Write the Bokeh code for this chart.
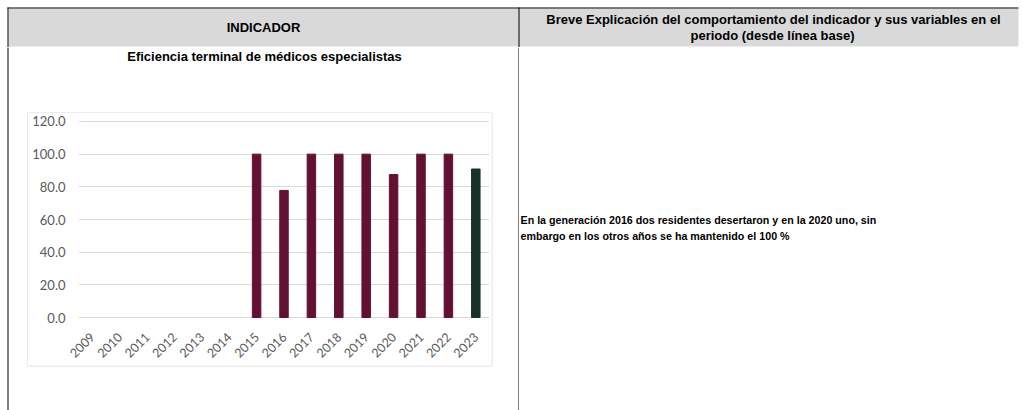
from bokeh.plotting import figure
from bokeh.layouts import column, row
from bokeh.models import (FactorRange, Range1d, FixedTicker, PrintfTickFormatter,
                          ColumnDataSource)
from bokeh.core.properties import value
from bokeh.embed import file_html
from bokeh.resources import INLINE
import math

# ---- data ----
years = ["2009", "2010", "2011", "2012", "2013", "2014", "2015", "2016",
         "2017", "2018", "2019", "2020", "2021", "2022", "2023"]
efficiency = [None, None, None, None, None, None, 100.0, 77.8, 100.0, 100.0,
              100.0, 87.5, 100.0, 100.0, 90.9]
y_ticks = [0, 20, 40, 60, 80, 100, 120]

header_left = "INDICADOR"
header_right = ["Breve Explicación del comportamiento del indicador y sus variables en el",
                "periodo (desde línea base)"]
chart_title = "Eficiencia terminal de médicos especialistas"
explanation = ["En la generación 2016 dos residentes desertaron y en la 2020 uno, sin",
               "embargo en los otros años se ha mantenido el 100 %"]

MAROON = "#621132"
GREEN = "#163229"
GRID = "#D9D9D9"
HEAD = "#D9D9D9"
FONT = value("Liberation Sans")


def no_align(f):
    try:
        f.frame_align = False
    except Exception:
        pass


def deco(x0, x1, y0, y1):
    """A plain figure whose data units are page pixels (y grows downward)."""
    f = figure(width=x1 - x0, height=y1 - y0, x_range=Range1d(x0, x1),
               y_range=Range1d(y1, y0), output_backend="svg", toolbar_location=None,
               title=None, min_border=0, x_axis_location=None, y_axis_location=None)
    f.outline_line_color = None
    f.background_fill_color = "white"
    f.border_fill_color = "white"
    f.grid.visible = False
    no_align(f)
    return f


def rect(f, l, r, t, b, color):
    f.quad(left=[l], right=[r], top=[t], bottom=[b], fill_color=color, line_color=None)


def txt(f, xs, ys, texts, size, align="center"):
    f.text(x=xs, y=ys, text=texts, text_font=FONT, text_font_size=value(size),
           text_font_style="bold", text_align=align, text_baseline="middle",
           text_color="black")


W, H = 1023, 410
LB, DIV, TOP, HB = 7, 518, 7, 47           # table lines / header bottom
CL, CR, CT, CB = 27, 491, 112, 365         # chart border
FL, FR, FT, FB = 78, 489, 120, 318         # plot frame

# header row
hdr = deco(0, W, 0, HB)
rect(hdr, LB + 1, 1018, TOP + 1, 46, HEAD)
rect(hdr, LB, 1018, TOP, TOP + 1, "black")
rect(hdr, LB, LB + 1, TOP, HB, "black")
rect(hdr, DIV, DIV + 1, TOP, HB, "black")
txt(hdr, [263], [27], [header_left], "13px")
txt(hdr, [773, 772], [19, 35], header_right, "13px")

# left strip (table border + chart border left edge), full body height
lfig = deco(0, CL + 1, HB, H)
rect(lfig, LB, LB + 1, HB, H, "black")
rect(lfig, CL, CL + 1, CT, CB + 1, GRID)

# right strip of left cell (chart border right edge + column divider)
rfig = deco(CR, DIV + 1, HB, H)
rect(rfig, CR, CR + 1, CT, CB + 1, GRID)
rect(rfig, DIV, DIV + 1, HB, H, "black")

# above the chart: title and chart border top
tfig = deco(CL + 1, CR, HB, CT + 1)
rect(tfig, CL + 1, CR, CT, CT + 1, GRID)
txt(tfig, [264], [56], [chart_title], "13px")

# below the chart: chart border bottom
bfig = deco(CL + 1, CR, CB, H)
rect(bfig, CL + 1, CR, CB, CB + 1, GRID)

# right cell: explanation
efig = deco(DIV + 1, W, HB, H)
txt(efig, [520, 520], [219, 235], explanation, "10.7px", align="left")

# ---- bar chart ----
bx = [y for y, v in zip(years, efficiency) if v is not None]
by = [v for v in efficiency if v is not None]
bc = [GREEN if y == years[-1] else MAROON for y in bx]
src = ColumnDataSource(dict(x=bx, top=by, color=bc))

cw, ch = CR - (CL + 1), CB - (CT + 1)
p = figure(width=cw, height=ch, x_range=FactorRange(*years, range_padding=0),
           y_range=Range1d(-0.6, 120.6), output_backend="svg", toolbar_location=None,
           title=None, min_border_left=FL - (CL + 1), min_border_right=CR - FR,
           min_border_top=FT - (CT + 1), min_border_bottom=CB - FB)
p.outline_line_color = None
p.background_fill_color = "white"
p.border_fill_color = "white"
no_align(p)

p.vbar(x="x", top="top", width=0.31, source=src, fill_color="color", line_color="color")

p.xgrid.grid_line_color = None
p.ygrid.grid_line_color = GRID
p.ygrid.ticker = FixedTicker(ticks=y_ticks)
p.yaxis.ticker = FixedTicker(ticks=y_ticks)
p.yaxis.formatter = PrintfTickFormatter(format="%.1f")
for ax in (p.xaxis[0], p.yaxis[0]):
    ax.axis_line_color = None
    ax.major_tick_line_color = None
    ax.minor_tick_line_color = None
    ax.major_tick_out = 0
    ax.major_tick_in = 0
    ax.major_label_text_font = "Lato"
    ax.major_label_text_color = "#595959"
p.yaxis.major_label_text_font_size = "13px"
p.xaxis.major_label_text_font_size = "12.5px"
p.yaxis.major_label_standoff = 13
p.xaxis.major_label_standoff = 16
p.xaxis.major_label_orientation = math.pi / 4

layout = column(
    hdr,
    row(lfig, column(tfig, p, bfig), rfig, efig),
)

open("out.html", "w").write(file_html(layout, INLINE))
